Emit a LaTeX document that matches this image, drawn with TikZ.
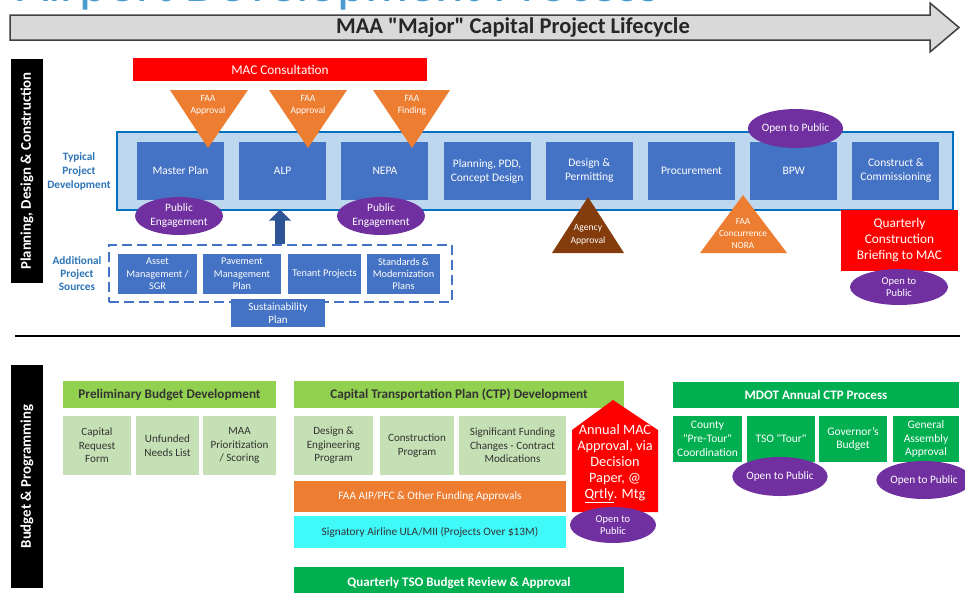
\documentclass[tikz,border=0pt]{standalone}
\usepackage{fontspec}
\setmainfont{Carlito}
\usetikzlibrary{shapes.geometric,arrows.meta}

\definecolor{boxblue}{HTML}{4472C4}
\definecolor{lightblue}{HTML}{BDD7EE}
\definecolor{frameblue}{HTML}{0070C0}
\definecolor{labelblue}{HTML}{2E75B6}
\definecolor{arrowblue}{HTML}{2F5597}
\definecolor{purp}{HTML}{7030A0}
\definecolor{orng}{HTML}{ED7D31}
\definecolor{brwn}{HTML}{843C0C}
\definecolor{lgreen}{HTML}{92D050}
\definecolor{pgreen}{HTML}{C5E0B4}
\definecolor{dgreen}{HTML}{00B050}
\definecolor{cyanbox}{HTML}{40FAFA}
\definecolor{titleblue}{HTML}{4A9BD0}
\definecolor{arrowgray}{HTML}{D9D9D9}
\definecolor{edgegray}{HTML}{404040}
\definecolor{darktext}{HTML}{333333}
\definecolor{macred}{HTML}{FF0000}

\tikzset{
  pbox/.style={fill=boxblue, text=white, inner sep=0, minimum width=87, minimum height=58,
    align=center, font=\fontsize{11.5}{14}\selectfont},
  sbox/.style={fill=boxblue, text=white, inner sep=0, minimum height=40,
    align=center, font=\fontsize{10.3}{12.3}\selectfont},
  pub/.style={ellipse, fill=purp, text=white, inner sep=0, align=center,
    font=\fontsize{11.3}{14}\selectfont},
  tritext/.style={text=white, align=center, inner sep=0, font=\fontsize{9.6}{12}\selectfont},
  sidebar/.style={fill=black, text=white, rotate=90, inner sep=0, minimum height=32,
    font=\bfseries\fontsize{14.8}{15}\selectfont},
  sidelabel/.style={text=labelblue, align=center, inner sep=0,
    font=\bfseries\fontsize{11.3}{14}\selectfont},
  redbox/.style={fill=macred, text=white, inner sep=0, align=center},
  ghead/.style={fill=lgreen, text=darktext, inner sep=0, minimum height=27,
    font=\bfseries\fontsize{13.2}{15}\selectfont},
  gbox/.style={fill=pgreen, text=darktext, inner sep=0, minimum height=59, align=center,
    font=\fontsize{11.1}{13.5}\selectfont},
  mbox/.style={fill=dgreen, text=white, inner sep=0, minimum height=46, align=center,
    font=\fontsize{11.5}{13.8}\selectfont},
}

\begin{document}
\begin{tikzpicture}[x=1pt,y=-1pt]
\useasboundingbox (0,0) rectangle (965,592);
\clip (0,0) rectangle (965,592);
\fill[white] (0,0) rectangle (965,592);

% cut-off title
\node[anchor=base west, text=titleblue, inner sep=0, font=\fontsize{54}{54}\selectfont] (title) at (17,1.5) {Airport Development Process};

% lifecycle arrow
\filldraw[fill=arrowgray, draw=edgegray, line width=1.5] (10,15) -- (930,15) -- (930,3) -- (959,27.5) -- (930,52) -- (930,40) -- (10,40) -- cycle;
\node[inner sep=0, text=black!85, font=\bfseries\fontsize{22.5}{22.5}\selectfont] (life) at (513,27.5) {MAA \textquotedbl Major\textquotedbl{} Capital Project Lifecycle};

% side bars
\node[sidebar, minimum width=224] (pdc) at (27,171) {Planning, Design \& Construction};
\node[sidebar, minimum width=223] (bp) at (27,476.5) {Budget \& Programming};

% MAC consultation
\node[redbox, minimum width=294, minimum height=23, font=\fontsize{13.3}{15}\selectfont] (mac) at (280,69.5) {MAC Consultation};

% typical project development container
\node[draw=frameblue, line width=2.5, fill=lightblue, minimum width=836, minimum height=78, inner sep=0] (tpd) at (535,171) {};
\node[sidelabel] (tpdlab) at (79,171) {Typical\\Project\\Development};

\node[pbox] (mp) at (180.5,171) {Master Plan};
\node[pbox] (alp) at (282.7,171) {ALP};
\node[pbox] (nepa) at (384.9,171) {NEPA};
\node[pbox] (plan) at (487.1,171) {Planning, PDD,\\Concept Design};
\node[pbox] (dp) at (589.3,171) {Design \&\\Permitting};
\node[pbox] (proc) at (691.5,171) {Procurement};
\node[pbox] (bpw) at (793.7,171) {BPW};
\node[pbox] (cc) at (895.9,171) {Construct \&\\Commissioning};

% FAA triangles
\fill[orng] (170,90) -- (248,90) -- (208,148) -- cycle;
\fill[orng] (269,90) -- (347,90) -- (308,148) -- cycle;
\fill[orng] (373,90) -- (450,90) -- (412,148) -- cycle;
\node[tritext] (faa1) at (208,105) {FAA\\Approval};
\node[tritext] (faa2) at (308,105) {FAA\\Approval};
\node[tritext] (faa3) at (412,105) {FAA\\Finding};

% lower triangles
\fill[brwn] (552,253) -- (624,253) -- (588,197) -- cycle;
\node[tritext, font=\fontsize{9.6}{12.5}\selectfont] (agency) at (588,234.5) {Agency\\Approval};
\fill[orng] (700,253) -- (787,253) -- (743,195) -- cycle;
\node[tritext, font=\fontsize{9.3}{12}\selectfont] (faacon) at (743,234) {FAA\\Concurrence\\NORA};

% ellipses top section
\node[pub, minimum width=88, minimum height=38] (pe1) at (179,216) {Public\\Engagement};
\node[pub, minimum width=88, minimum height=38] (pe2) at (381,216) {Public\\Engagement};
\node[pub, minimum width=87, minimum height=39] (otp1) at (795.5,128.5) {Open to Public};

% quarterly briefing
\node[redbox, minimum width=117, minimum height=61, font=\fontsize{13.3}{16}\selectfont] (qcb) at (899.5,240.5) {Quarterly\\Construction\\Briefing to MAC};
\node[pub, minimum width=98, minimum height=36, font=\fontsize{10.5}{12.5}\selectfont] (otp2) at (899,287) {Open to\\Public};

% additional sources
\node[draw=boxblue, line width=2, dash pattern=on 10pt off 5pt, minimum width=343, minimum height=57, inner sep=0] (src) at (280.5,273.5) {};
\node[sidelabel, font=\bfseries\fontsize{11.3}{13}\selectfont] (srclab) at (77,274) {Additional\\Project\\Sources};
\node[sbox, minimum width=79] (asset) at (157.5,274) {Asset\\Management /\\SGR};
\node[sbox, minimum width=78] (pave) at (242,274) {Pavement\\Management\\Plan};
\node[sbox, minimum width=73] (tenant) at (324.5,274) {Tenant Projects};
\node[sbox, minimum width=73] (std) at (403.5,274) {Standards \&\\Modernization\\Plans};
\node[sbox, minimum width=94, minimum height=28, font=\fontsize{11}{12.5}\selectfont] (sust) at (278,313) {Sustainability\\Plan};

\coordinate (arrtip) at (280,209.5);
\draw[draw=arrowblue, line width=10, -{Triangle[width=21pt,length=11pt]}] (src.north -| arrtip) -- (arrtip);

% divider
\draw[line width=2] (15,336) -- (960,336);

% budget section
\node[ghead, minimum width=213] (pbd) at (169.5,394.5) {Preliminary Budget Development};
\node[gbox, minimum width=68] (crf) at (97,445.5) {Capital\\Request\\Form};
\node[gbox, minimum width=63] (unl) at (167.5,445.5) {Unfunded\\Needs List};
\node[gbox, minimum width=73] (maa) at (239.5,445.5) {MAA\\Prioritization\\/ Scoring};

\node[ghead, minimum width=330] (ctp) at (459,394.5) {Capital Transportation Plan (CTP) Development};
\node[gbox, minimum width=79] (dep) at (333.5,445.5) {Design \&\\Engineering\\Program};
\node[gbox, minimum width=74] (cp) at (417,445.5) {Construction\\Program};
\node[gbox, minimum width=107] (sfc) at (512.5,445.5) {Significant Funding\\Changes - Contract\\Modications};

\node[fill=orng, text=white, inner sep=0, minimum width=272, minimum height=31, font=\fontsize{11.3}{13}\selectfont] (aip) at (430,496.5) {FAA AIP/PFC \& Other Funding Approvals};
\node[fill=cyanbox, text=darktext, inner sep=0, minimum width=272, minimum height=32, font=\fontsize{11.3}{13}\selectfont] (ula) at (430,532) {Signatory Airline ULA/MII (Projects Over \$13M)};
\node[fill=dgreen, text=white, inner sep=0, minimum width=330, minimum height=33, font=\bfseries\fontsize{13}{15}\selectfont] (tso) at (459,583.5) {Quarterly TSO Budget Review \& Approval};

% annual MAC approval pentagon
\fill[macred] (572,512) -- (572,430) -- (613,400) -- (658,430) -- (658,512) -- cycle;
\node[text=white, inner sep=0, align=center, font=\fontsize{14.3}{16}\selectfont] (amac) at (615,464) {Annual MAC\\Approval, via\\Decision\\Paper, @\\\underline{Qrtly}. Mtg};
\node[pub, minimum width=86, minimum height=36, font=\fontsize{10.5}{12.5}\selectfont] (otp3) at (613,525) {Open to\\Public};

% MDOT
\node[fill=dgreen, text=white, inner sep=0, minimum width=286, minimum height=26, font=\bfseries\fontsize{13}{15}\selectfont] (mdot) at (816,395) {MDOT Annual CTP Process};
\node[mbox, minimum width=69] (county) at (707.5,439) {County\\\textquotedbl Pre-Tour\textquotedbl\\Coordination};
\node[mbox, minimum width=68] (tour) at (781,439) {TSO \textquotedbl Tour\textquotedbl};
\node[mbox, minimum width=68] (gov) at (853,439) {Governor's\\Budget};
\node[mbox, minimum width=66] (ga) at (926,439) {General\\Assembly\\Approval};
\node[pub, minimum width=88, minimum height=39] (otp4) at (780,476.5) {Open to Public};
\node[pub, minimum width=84, minimum height=38] (otp5) at (924,480) {Open to Public};

\end{tikzpicture}
\end{document}
